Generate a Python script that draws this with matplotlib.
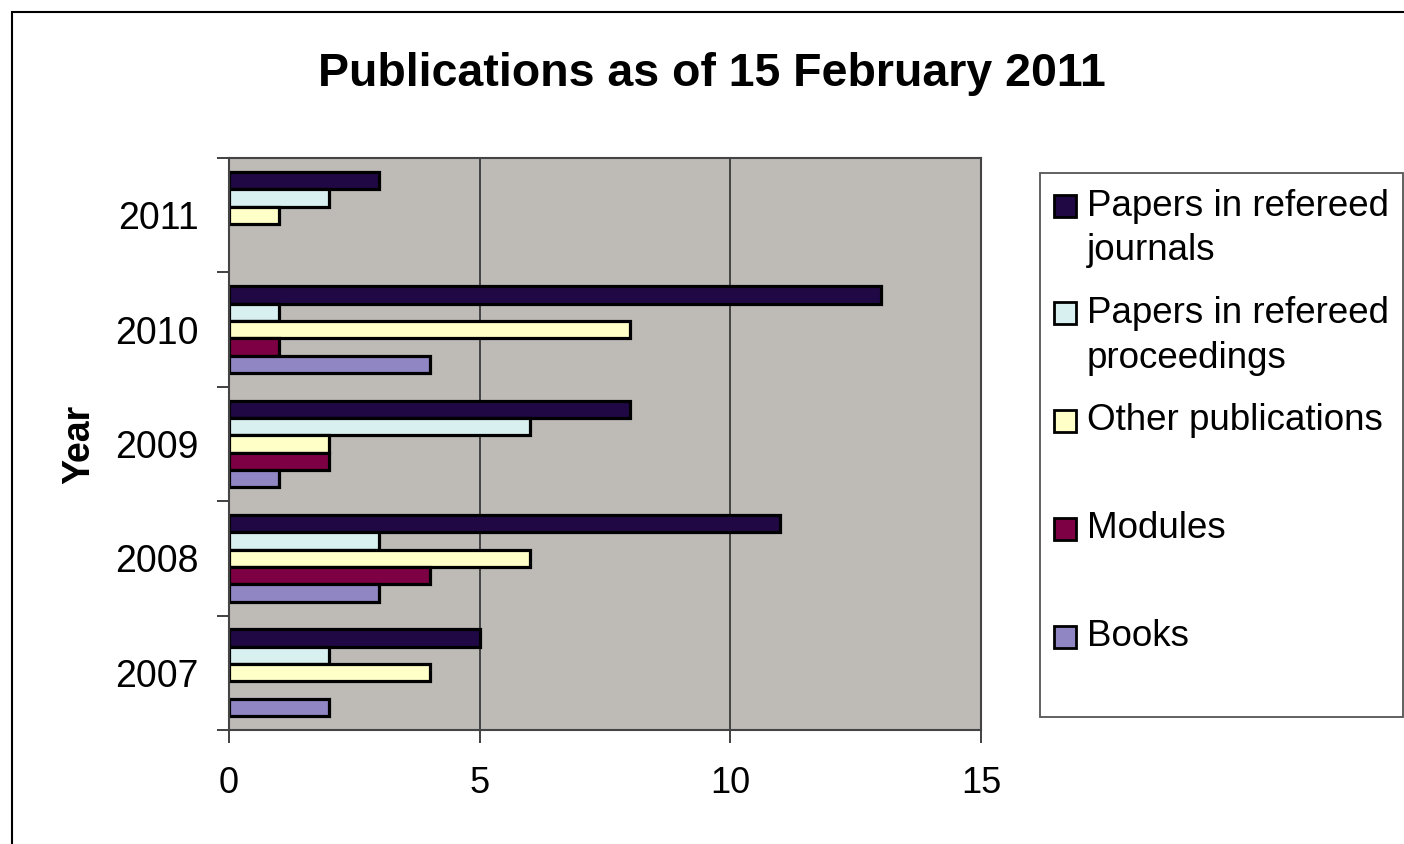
import numpy as np
import matplotlib
matplotlib.use('Agg')
import matplotlib.pyplot as plt
from matplotlib.patches import Rectangle

plt.rcParams['font.family'] = ['Liberation Sans', 'DejaVu Sans']

# data
years = ['2007', '2008', '2009', '2010', '2011']
series = ['Papers in refereed\njournals', 'Papers in refereed\nproceedings',
          'Other publications', 'Modules', 'Books']
journals = [5, 11, 8, 13, 3]
proceedings = [2, 3, 6, 1, 2]
other = [4, 6, 2, 8, 1]
modules = [0, 4, 2, 1, 0]
books = [2, 3, 1, 4, 0]
values = [journals, proceedings, other, modules, books]
colors = ['#200845', '#d9f0f0', '#ffffc8', '#7e0044', '#9086c4']

W, H = 1404, 844
fig = plt.figure(figsize=(W / 100, H / 100), dpi=100)

# outer chart border (only left/top visible in the reference)
fig.patches.append(Rectangle((12 / W, -0.1), 1.2, 1 - 12 / H + 0.1,
                             transform=fig.transFigure, fill=False,
                             edgecolor='black', linewidth=1.5))

ax = fig.add_axes([229 / W, 1 - 730 / H, (981 - 229) / W, (730 - 158) / H])
ax.set_facecolor('#bebab6')

y = np.arange(len(years))
h = 0.152
for i, (vals, c) in enumerate(zip(values, colors)):
    vals = np.array(vals, dtype=float)
    keep = vals > 0  # empty categories draw nothing
    off = (2 - i) * h
    ax.barh(y[keep] + off, vals[keep], height=h, color=c,
            edgecolor='black', linewidth=2.3)

ax.set_xlim(0, 15)
ax.set_ylim(-0.5, len(years) - 0.5)
ax.set_xticks([0, 5, 10, 15])
ax.set_xticklabels(['0', '5', '10', '15'], fontsize=26)
ax.set_yticks(y)
ax.set_yticklabels(years, fontsize=27)
ax.set_yticks(np.arange(-0.5, len(years)), minor=True)
ax.tick_params(axis='y', which='major', length=0, pad=22)
ax.tick_params(axis='y', which='minor', length=9, width=1.3, color='#333333')
ax.tick_params(axis='x', length=9, width=1.3, color='#333333', pad=17)
ax.xaxis.grid(True, color='#3a3a3a', linewidth=1.3)
ax.set_axisbelow(True)
for s in ax.spines.values():
    s.set_color('#444444')
    s.set_linewidth(1.5)

ax.set_ylabel('Year', fontsize=27, fontweight='bold')
ax.yaxis.set_label_coords(-0.175, 0.5)

fig.text(712 / W, 1 - 74 / H, 'Publications as of 15 February 2011',
         fontsize=33.5, fontweight='bold', ha='center', va='center')

# legend box, drawn in figure pixel coordinates
lx0, ly0, lx1, ly1 = 1040, 173, 1403, 717
fig.patches.append(Rectangle((lx0 / W, 1 - ly1 / H), (lx1 - lx0) / W, (ly1 - ly0) / H,
                             transform=fig.transFigure, facecolor='white',
                             edgecolor='#555555', linewidth=1.3))
entry_y = [206, 313, 421, 529, 637]
line_h = 45
for name, c, ey in zip(series, colors, entry_y):
    fig.patches.append(Rectangle((1054 / W, 1 - (ey + 11) / H), 22 / W, 22 / H,
                                 transform=fig.transFigure, facecolor=c,
                                 edgecolor='black', linewidth=2))
    for k, line in enumerate(name.split('\n')):
        fig.text(1087 / W, 1 - (ey + k * line_h) / H, line, fontsize=26.5,
                 ha='left', va='center')

fig.savefig('out.png', dpi=100)
